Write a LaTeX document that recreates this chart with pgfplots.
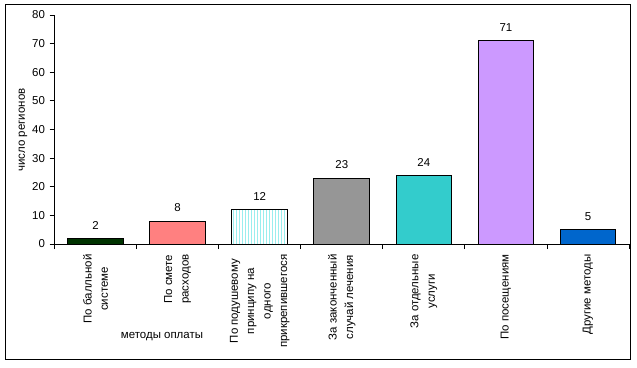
\documentclass[border=0pt]{standalone}
\usepackage{fontspec}
\setmainfont{Liberation Sans}
\usepackage{pgfplots}
\pgfplotsset{compat=1.18}
\usetikzlibrary{patterns}
\definecolor{cA}{HTML}{003300}
\definecolor{cB}{HTML}{FF8080}
\definecolor{cC}{HTML}{99EEEE}
\definecolor{cD}{HTML}{969696}
\definecolor{cE}{HTML}{33CCCC}
\definecolor{cF}{HTML}{CC99FF}
\definecolor{cG}{HTML}{0066CC}
\newcommand{\lf}{\fontsize{11.5}{16.5}\selectfont}
\begin{document}
\begin{tikzpicture}[x=1bp,y=1bp]
\useasboundingbox (0,0) rectangle (637,367);
\draw[line width=1bp] (5,8) rectangle (630,362);
\begin{axis}[
  at={(54.5bp,123bp)}, anchor=south west,
  scale only axis, width=574.5bp, height=229bp,
  xmin=-0.5, xmax=6.5, ymin=0, ymax=80,
  axis x line*=bottom, axis y line*=left,
  axis line style={line width=0.8bp},
  ytick={0,10,...,80},
  tick align=outside, major tick length=5bp,
  tick style={line width=0.8bp, black},
  /pgf/number format/assume math mode=true,
  ticklabel style={font=\lf},
  yticklabel style={xshift=-1bp},
  xtick={-0.5,0.5,...,6.5}, xticklabels={},
  extra x ticks={0,1,2,3,4,5,6},
  extra x tick labels={{По балльной\\системе},{По смете\\расходов},{По подушевому\\принципу на\\одного\\прикрепившегося},{За законченный\\случай лечения},{За отдельные\\услуги},{По посещениям},{Другие методы}},
  extra x tick style={major tick length=0pt,
    xticklabel style={/tikz/yshift=-7bp, rotate=90, anchor=east, align=center, font=\lf}},
  ybar, bar width=0.68, bar shift=0pt,
  every axis plot/.append style={draw=black, line width=0.8bp},
  nodes near coords, nodes near coords style={font=\lf, yshift=5.5bp, black},
  clip=false,
]
\addplot[fill=cA] coordinates {(0,2)};
\addplot[fill=cB] coordinates {(1,8)};
\addplot[fill=white, postaction={pattern=vertical lines, pattern color=cC}] coordinates {(2,12)};
\addplot[fill=cD] coordinates {(3,23)};
\addplot[fill=cE] coordinates {(4,24)};
\addplot[fill=cF] coordinates {(5,71)};
\addplot[fill=cG] coordinates {(6,5)};
\end{axis}
\node[rotate=90, font=\lf] at (23,237) {число регионов};
\node[font=\lf] at (162,30) {методы оплаты};
\end{tikzpicture}
\end{document}
